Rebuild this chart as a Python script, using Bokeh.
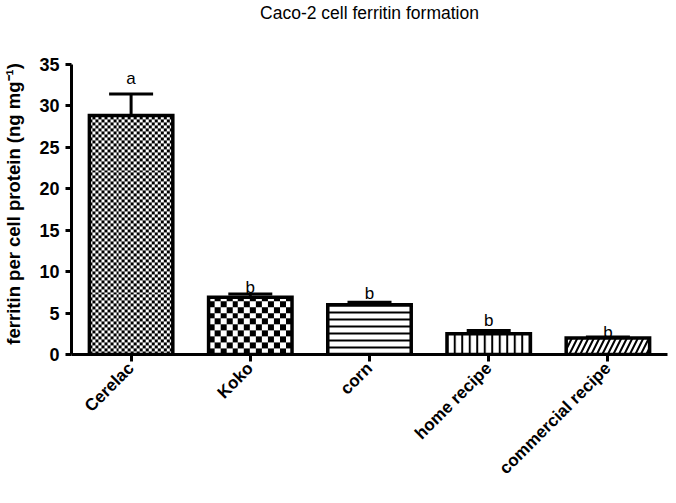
from math import pi
import numpy as np
from bokeh.plotting import figure
from bokeh.models import ColumnDataSource, Whisker, TeeHead, FactorRange, FixedTicker
from bokeh.core.properties import value
from bokeh.embed import file_html
from bokeh.resources import INLINE

# ---- data ----
categories = ["Cerelac", "Koko", "corn", "home recipe", "commercial recipe"]
ferritin = [28.8, 6.9, 6.0, 2.5, 2.0]
err_upper = [31.4, 7.3, 6.3, 2.9, 2.1]
sig_letters = ["a", "b", "b", "b", "b"]
letter_y = [33.3, 8.1, 7.3, 4.1, 2.6]
y_ticks = [0, 5, 10, 15, 20, 25, 30, 35]

# ---- styles ----
hatch_patterns = ["blank", "blank", "horizontal_line", "vertical_line", "right_diagonal_line"]
hatch_scales = [6, 12, 7, 7.5, 11]
hatch_weights = [1, 1, 2, 2, 2]
checker_cells = {0: 3, 1: 6}   # bar index -> checker cell size in px

FONT = "Liberation Sans"

# ---- layout ----
W, H = 668, 487
BL, BR, BT, BB = 70, 1, 21, 131
X_END, Y_END = 4.93, 40.0
BAR_W = 0.7
px_x = (W - BL - BR) / X_END
px_y = (H - BT - BB) / Y_END

src = ColumnDataSource(dict(
    cat=categories, val=ferritin, err=err_upper,
    pat=hatch_patterns, hs=hatch_scales, hw=hatch_weights,
    let=sig_letters, ly=letter_y,
))

p = figure(
    x_range=FactorRange(*categories, range_padding=0, start=0, end=X_END),
    y_range=(0, Y_END),
    width=W, height=H,
    output_backend="svg", toolbar_location=None,
    title="Caco-2 cell ferritin formation",
    min_border_left=BL, min_border_right=BR, min_border_top=BT, min_border_bottom=BB,
)
p.title.align = "center"
p.title.text_font = FONT
p.title.text_font_size = "17.5px"
p.title.text_font_style = "normal"
p.title.text_color = "black"
p.title.standoff = 0

p.outline_line_color = None
p.xgrid.grid_line_color = None
p.ygrid.grid_line_color = None

# checkerboard fills (image pixels sized to the bar's on-screen size)
imgs, ix, idh = [], [], []
for i, cell in checker_cells.items():
    cols = int(round(BAR_W * px_x))
    rows = int(round(ferritin[i] * px_y))
    jj, ii = np.meshgrid(np.arange(cols), np.arange(rows))
    black = ((jj // cell) + (ii // cell)) % 2 == 0
    arr = np.where(black, np.uint32(0xFF000000), np.uint32(0xFFFFFFFF)).astype(np.uint32)
    imgs.append(arr)
    ix.append(i + 0.5 - BAR_W / 2)
    idh.append(ferritin[i])
p.image_rgba(image=imgs, x=ix, y=[0] * len(imgs), dw=[BAR_W] * len(imgs), dh=idh)

p.vbar(x="cat", top="val", width=BAR_W, source=src, fill_color=None,
       line_color="black", line_width=3.5, line_join="miter", hatch_color="black",
       hatch_pattern="pat", hatch_scale="hs", hatch_weight="hw")

wh = Whisker(base="cat", lower="val", upper="err", source=src,
             line_color="black", line_width=3,
             upper_head=TeeHead(size=44, line_width=3, line_color="black"),
             lower_head=None)
p.add_layout(wh)

p.text(x="cat", y="ly", text="let", source=src, text_align="center",
       text_baseline="alphabetic", text_font=value(FONT), text_font_size="17px",
       text_color="black")

# y axis
ya = p.yaxis[0]
ya.bounds = (0, 35)
ya.ticker = FixedTicker(ticks=y_ticks)
ya.minor_tick_line_color = None
ya.axis_line_width = 3
ya.axis_line_color = "black"
ya.major_tick_line_width = 3
ya.major_tick_line_color = "black"
ya.major_tick_out = 6
ya.major_tick_in = 0
ya.major_label_text_font = FONT
ya.major_label_text_font_size = "18px"
ya.major_label_text_font_style = "bold"
ya.major_label_text_color = "black"
ya.major_label_standoff = 6
ya.axis_label = "ferritin per cell protein (ng mg\u207b\u00b9)" + "\u00a0" * 6
ya.axis_label_text_font = FONT
ya.axis_label_text_font_size = "18.5px"
ya.axis_label_text_font_style = "bold"
ya.axis_label_text_color = "black"
ya.axis_label_standoff = 12

# x axis
xa = p.xaxis[0]
xa.axis_line_width = 3
xa.axis_line_color = "black"
xa.major_tick_line_width = 3
xa.major_tick_line_color = "black"
xa.major_tick_out = 7
xa.major_tick_in = 0
xa.minor_tick_line_color = None
xa.major_label_orientation = pi / 4
xa.major_label_text_font = FONT
xa.major_label_text_font_size = "17px"
xa.major_label_text_font_style = "bold"
xa.major_label_text_color = "black"
xa.major_label_standoff = 4
xa.major_label_overrides = {"commercial recipe": "commercial\u00a0 recipe"}

open("out.html", "w").write(file_html(p, INLINE))
